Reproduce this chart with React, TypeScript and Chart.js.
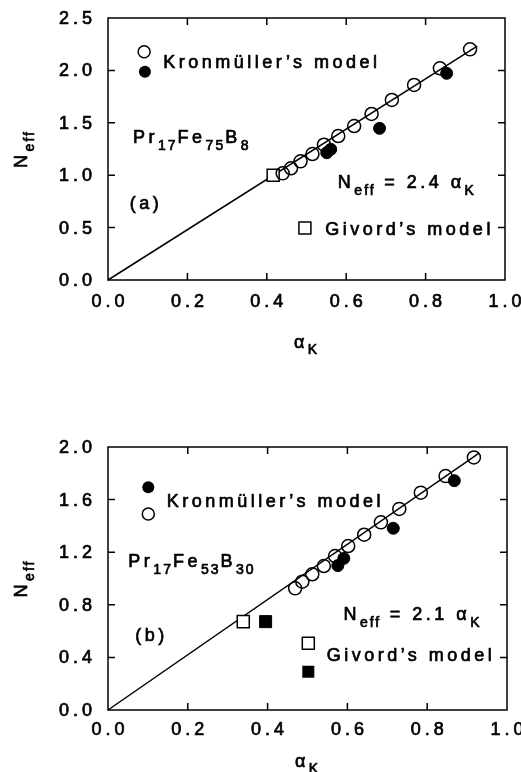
import React, { useEffect, useRef } from 'react';
import { Chart, registerables } from 'chart.js';
Chart.register(...registerables);

const FONT = '"Liberation Sans", Arial, Helvetica, sans-serif';
const MAIN_FONT = `18px ${FONT}`;
const SUB_FONT = `14px ${FONT}`;
const MAIN_LS = '3.5px';
const SUB_LS = '2px';
const TEXT_STROKE = 0.7;

// ---------- Panel (a): Pr17Fe75B8 ----------
const aKronOpenX = [0.44, 0.461, 0.485, 0.515, 0.544, 0.58, 0.62, 0.664, 0.715, 0.771, 0.836, 0.912];
const aKronOpenY = [1.018, 1.066, 1.132, 1.202, 1.291, 1.374, 1.469, 1.584, 1.718, 1.861, 2.02, 2.201];
const aKronFilledX = [0.551, 0.561, 0.684, 0.853];
const aKronFilledY = [1.215, 1.247, 1.447, 1.972];
const aGivordOpenX = [0.416];
const aGivordOpenY = [1.0];
const aFitX = [0, 0.93];
const aFitY = [0, 2.232];

// ---------- Panel (b): Pr17Fe53B30 ----------
const bKronOpenX = [0.469, 0.487, 0.512, 0.541, 0.569, 0.602, 0.642, 0.684, 0.73, 0.784, 0.846, 0.917];
const bKronOpenY = [0.925, 0.976, 1.032, 1.095, 1.171, 1.247, 1.333, 1.427, 1.529, 1.653, 1.779, 1.921];
const bKronFilledX = [0.576, 0.591, 0.715, 0.868];
const bKronFilledY = [1.098, 1.153, 1.382, 1.744];
const bGivordOpenX = [0.339];
const bGivordOpenY = [0.672];
const bGivordFilledX = [0.395];
const bGivordFilledY = [0.672];
const bFitX = [0, 0.93];
const bFitY = [0, 1.953];

// ---------- Ticks ----------
const xTicks = [0, 0.2, 0.4, 0.6, 0.8, 1.0];
const xTickLabels = ['0.0', '0.2', '0.4', '0.6', '0.8', '1.0'];
const aYTicks = [0, 0.5, 1.0, 1.5, 2.0, 2.5];
const aYTickLabels = ['0.0', '0.5', '1.0', '1.5', '2.0', '2.5'];
const bYTicks = [0, 0.4, 0.8, 1.2, 1.6, 2.0];
const bYTickLabels = ['0.0', '0.4', '0.8', '1.2', '1.6', '2.0'];

type Part = { t: string; sub?: boolean };

const zip = (xs: number[], ys: number[]) => xs.map((x, i) => ({ x, y: ys[i] }));

function setPartFont(ctx: CanvasRenderingContext2D, p: Part) {
  ctx.font = p.sub ? SUB_FONT : MAIN_FONT;
  (ctx as any).letterSpacing = p.sub ? SUB_LS : MAIN_LS;
}

function heavyText(ctx: CanvasRenderingContext2D, s: string, x: number, y: number) {
  ctx.fillText(s, x, y);
  ctx.lineWidth = TEXT_STROKE;
  ctx.lineJoin = 'round';
  ctx.strokeText(s, x, y);
}

function richWidth(ctx: CanvasRenderingContext2D, parts: Part[]) {
  let w = 0;
  for (const p of parts) {
    setPartFont(ctx, p);
    w += ctx.measureText(p.t).width;
  }
  return w;
}

function drawRich(ctx: CanvasRenderingContext2D, parts: Part[], x: number, y: number, subDy = 7) {
  ctx.textAlign = 'left';
  ctx.textBaseline = 'alphabetic';
  let cx = x;
  for (const p of parts) {
    setPartFont(ctx, p);
    heavyText(ctx, p.t, cx, p.sub ? y + subDy : y);
    cx += ctx.measureText(p.t).width;
  }
}

type Marker = { kind: 'openCircle' | 'filledCircle' | 'openSquare' | 'filledSquare'; x: number; y: number };
type Label = { parts: Part[]; x: number; y: number };

interface PanelSpec {
  width: number;
  height: number;
  top: number;
  padTop: number;
  padRight: number;
  yAxisWidth: number;
  xAxisHeight: number;
  yMax: number;
  yTicks: number[];
  yTickLabels: string[];
  xLabelDy: number;
  xTitleDy: number;
  datasets: any[];
  markers: Marker[];
  labels: Label[];
}

function makeDecor(spec: PanelSpec) {
  return {
    id: 'decor',
    afterDraw(chart: any) {
      const { ctx, chartArea: a } = chart;
      const xs = chart.scales.x;
      const ys = chart.scales.y;
      ctx.save();
      ctx.strokeStyle = '#000';
      ctx.fillStyle = '#000';
      ctx.lineWidth = 1.5;
      ctx.strokeRect(a.left, a.top, a.right - a.left, a.bottom - a.top);
      ctx.beginPath();
      xs.ticks.forEach((t: any) => {
        if (t.value <= xs.min || t.value >= xs.max) return;
        const px = xs.getPixelForValue(t.value);
        ctx.moveTo(px, a.bottom);
        ctx.lineTo(px, a.bottom - 7);
        ctx.moveTo(px, a.top);
        ctx.lineTo(px, a.top + 7);
      });
      ys.ticks.forEach((t: any) => {
        if (t.value <= ys.min || t.value >= ys.max) return;
        const py = ys.getPixelForValue(t.value);
        ctx.moveTo(a.left, py);
        ctx.lineTo(a.left + 7, py);
        ctx.moveTo(a.right, py);
        ctx.lineTo(a.right - 7, py);
      });
      ctx.stroke();

      // tick labels
      ctx.font = MAIN_FONT;
      (ctx as any).letterSpacing = '4px';
      ctx.textBaseline = 'middle';
      ctx.textAlign = 'center';
      xs.ticks.forEach((t: any, i: number) => {
        const px = xs.getPixelForValue(t.value);
        heavyText(ctx, xTickLabels[i], px + 2, a.bottom + spec.xLabelDy);
      });
      ctx.textAlign = 'right';
      ys.ticks.forEach((t: any, i: number) => {
        const py = ys.getPixelForValue(t.value);
        heavyText(ctx, spec.yTickLabels[i], a.left - 12, py + 1);
      });

      // axis titles
      const xt: Part[] = [{ t: 'α' }, { t: 'K', sub: true }];
      const xw = richWidth(ctx, xt);
      drawRich(ctx, xt, (a.left + a.right) / 2 - xw / 2, a.bottom + spec.xTitleDy, 6);
      const yt: Part[] = [{ t: 'N' }, { t: 'eff', sub: true }];
      const yw = richWidth(ctx, yt);
      ctx.save();
      ctx.translate(27, (a.top + a.bottom) / 2);
      ctx.rotate(-Math.PI / 2);
      drawRich(ctx, yt, -yw / 2, 0, 7);
      ctx.restore();

      // legend markers
      ctx.lineWidth = 1.5;
      spec.markers.forEach((m) => {
        const px = xs.getPixelForValue(m.x);
        const py = ys.getPixelForValue(m.y);
        ctx.beginPath();
        if (m.kind === 'openCircle' || m.kind === 'filledCircle') {
          ctx.arc(px, py, 6, 0, Math.PI * 2);
        } else {
          ctx.rect(px - 6, py - 6, 12, 12);
        }
        if (m.kind.startsWith('filled')) ctx.fill();
        else ctx.stroke();
      });

      // text labels
      spec.labels.forEach((l) => {
        drawRich(ctx, l.parts, xs.getPixelForValue(l.x), ys.getPixelForValue(l.y));
      });
      ctx.restore();
    },
  };
}

function Panel({ spec }: { spec: PanelSpec }) {
  const ref = useRef<HTMLCanvasElement>(null);
  useEffect(() => {
    if (!ref.current) return;
    const chart = new Chart(ref.current, {
      type: 'scatter',
      data: { datasets: spec.datasets },
      options: {
        animation: false,
        responsive: false,
        maintainAspectRatio: false,
        events: [],
        layout: { padding: { left: 0, right: spec.padRight, top: spec.padTop, bottom: 0 } },
        plugins: { legend: { display: false }, tooltip: { enabled: false } },
        scales: {
          x: {
            type: 'linear',
            min: 0,
            max: 1,
            grid: { display: false },
            border: { display: false },
            ticks: { display: false },
            afterBuildTicks: (s: any) => {
              s.ticks = xTicks.map((v) => ({ value: v }));
            },
            afterFit: (s: any) => {
              s.height = spec.xAxisHeight;
            },
          },
          y: {
            type: 'linear',
            min: 0,
            max: spec.yMax,
            grid: { display: false },
            border: { display: false },
            ticks: { display: false },
            afterBuildTicks: (s: any) => {
              s.ticks = spec.yTicks.map((v) => ({ value: v }));
            },
            afterFit: (s: any) => {
              s.width = spec.yAxisWidth;
            },
          },
        },
      } as any,
      plugins: [makeDecor(spec)],
    });
    return () => chart.destroy();
  }, [spec]);
  return (
    <canvas
      ref={ref}
      width={spec.width}
      height={spec.height}
      style={{ position: 'absolute', left: 0, top: spec.top, width: spec.width, height: spec.height }}
    />
  );
}

const lineDs = (xs: number[], ys: number[]) => ({
  data: zip(xs, ys),
  showLine: true,
  borderColor: '#000',
  borderWidth: 1.5,
  pointRadius: 0,
  clip: false,
  order: 5,
});
const openCircleDs = (xs: number[], ys: number[]) => ({
  data: zip(xs, ys),
  pointStyle: 'circle',
  pointRadius: 6.5,
  backgroundColor: 'rgba(255,255,255,0)',
  borderColor: '#000',
  borderWidth: 1.5,
  clip: false,
  order: 2,
});
const filledCircleDs = (xs: number[], ys: number[]) => ({
  data: zip(xs, ys),
  pointStyle: 'circle',
  pointRadius: 6,
  backgroundColor: '#000',
  borderColor: '#000',
  borderWidth: 1,
  clip: false,
  order: 1,
});
const openSquareDs = (xs: number[], ys: number[]) => ({
  data: zip(xs, ys),
  pointStyle: 'rect',
  pointRadius: 8.5,
  backgroundColor: '#fff',
  borderColor: '#000',
  borderWidth: 1.5,
  clip: false,
  order: 3,
});
const filledSquareDs = (xs: number[], ys: number[]) => ({
  data: zip(xs, ys),
  pointStyle: 'rect',
  pointRadius: 8.5,
  backgroundColor: '#000',
  borderColor: '#000',
  borderWidth: 1,
  clip: false,
  order: 3,
});

const specA: PanelSpec = {
  width: 521,
  height: 360,
  top: 0,
  padTop: 18,
  padRight: 16,
  yAxisWidth: 108,
  xAxisHeight: 80,
  yMax: 2.5,
  yTicks: aYTicks,
  yTickLabels: aYTickLabels,
  xLabelDy: 22,
  xTitleDy: 68,
  datasets: [
    lineDs(aFitX, aFitY),
    openCircleDs(aKronOpenX, aKronOpenY),
    filledCircleDs(aKronFilledX, aKronFilledY),
    openSquareDs(aGivordOpenX, aGivordOpenY),
  ],
  markers: [
    { kind: 'openCircle', x: 0.091, y: 2.178 },
    { kind: 'filledCircle', x: 0.093, y: 1.988 },
    { kind: 'openSquare', x: 0.496, y: 0.496 },
  ],
  labels: [
    { parts: [{ t: 'Kronmüller’s model' }], x: 0.139, y: 2.023 },
    { parts: [{ t: 'Pr' }, { t: '17', sub: true }, { t: 'Fe' }, { t: '75', sub: true }, { t: 'B' }, { t: '8', sub: true }], x: 0.063, y: 1.307 },
    { parts: [{ t: '(a)' }], x: 0.055, y: 0.677 },
    { parts: [{ t: 'N' }, { t: 'eff', sub: true }, { t: ' = 2.4 ' }, { t: 'α' }, { t: 'K', sub: true }], x: 0.579, y: 0.878 },
    { parts: [{ t: 'Givord’s model' }], x: 0.547, y: 0.434 },
  ],
};

const specB: PanelSpec = {
  width: 521,
  height: 392,
  top: 380,
  padTop: 67,
  padRight: 14,
  yAxisWidth: 108,
  xAxisHeight: 62,
  yMax: 2.0,
  yTicks: bYTicks,
  yTickLabels: bYTickLabels,
  xLabelDy: 20,
  xTitleDy: 57,
  datasets: [
    lineDs(bFitX, bFitY),
    openCircleDs(bKronOpenX, bKronOpenY),
    filledCircleDs(bKronFilledX, bKronFilledY),
    openSquareDs(bGivordOpenX, bGivordOpenY),
    filledSquareDs(bGivordFilledX, bGivordFilledY),
  ],
  markers: [
    { kind: 'filledCircle', x: 0.101, y: 1.694 },
    { kind: 'openCircle', x: 0.101, y: 1.49 },
    { kind: 'openSquare', x: 0.502, y: 0.507 },
    { kind: 'filledSquare', x: 0.502, y: 0.291 },
  ],
  labels: [
    { parts: [{ t: 'Kronmüller’s model' }], x: 0.147, y: 1.544 },
    { parts: [{ t: 'Pr' }, { t: '17', sub: true }, { t: 'Fe' }, { t: '53', sub: true }, { t: 'B' }, { t: '30', sub: true }], x: 0.051, y: 1.087 },
    { parts: [{ t: '(b)' }], x: 0.068, y: 0.525 },
    { parts: [{ t: 'N' }, { t: 'eff', sub: true }, { t: ' = 2.1 ' }, { t: 'α' }, { t: 'K', sub: true }], x: 0.59, y: 0.684 },
    { parts: [{ t: 'Givord’s model' }], x: 0.548, y: 0.369 },
  ],
};

export default function App() {
  return (
    <div style={{ position: 'absolute', left: 0, top: 0, width: 521, height: 772, background: '#fff' }}>
      <Panel spec={specA} />
      <Panel spec={specB} />
    </div>
  );
}
